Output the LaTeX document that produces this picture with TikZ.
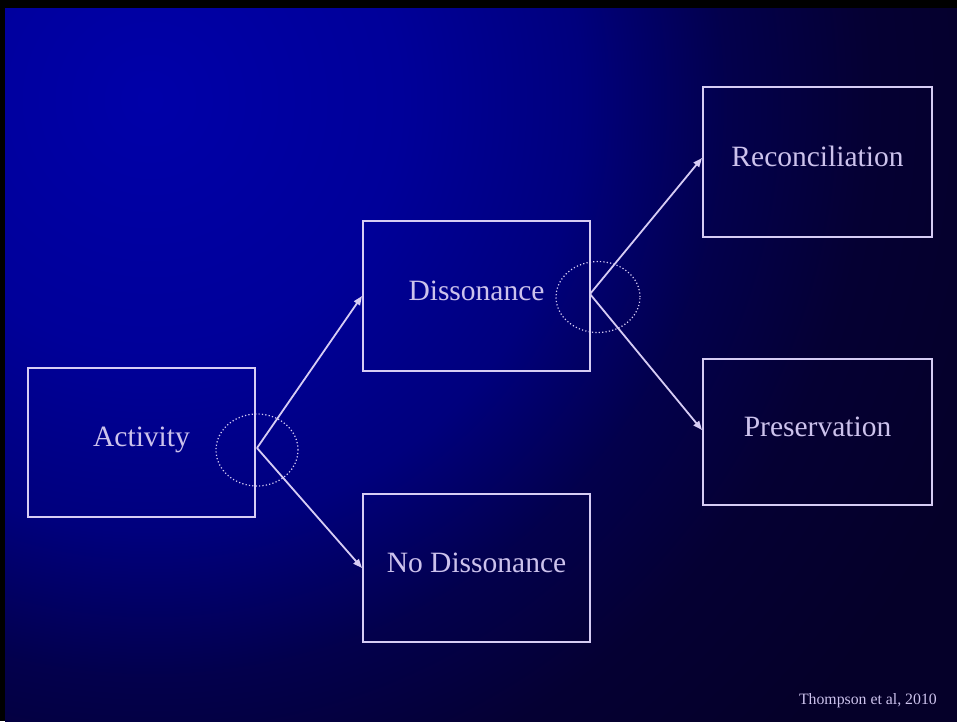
\documentclass[tikz,border=0pt]{standalone}
\usepackage{fontspec}
\setmainfont{Liberation Serif}
\usetikzlibrary{arrows.meta,shapes.geometric}

% background glow: bright blue in the upper left, fading to deep navy
% (25bp corresponds to the radius of the shaded circle)
\pgfdeclareradialshading{bgglow}{\pgfpoint{0bp}{0bp}}{%
  rgb(0bp)=(0,0,0.66);
  rgb(5.7bp)=(0,0,0.60);
  rgb(9.8bp)=(0,0,0.49);
  rgb(13.1bp)=(0.01,0,0.30);
  rgb(16.4bp)=(0.02,0,0.20);
  rgb(20.5bp)=(0.02,0,0.16);
  rgb(50bp)=(0.02,0,0.16)}

\definecolor{linecol}{RGB}{214,204,244}
\definecolor{textcol}{RGB}{204,194,236}

\tikzset{
  stagebox/.style={draw=linecol, line width=2pt, rectangle, inner sep=0pt,
    text=textcol, font=\fontsize{29.5}{34}\selectfont,
    text height=20pt, text depth=12pt},
  branch/.style={draw=linecol, line width=1.8pt,
    -{Triangle[length=9pt,width=7pt]}},
  forkring/.style={draw=linecol, ellipse, line width=1.2pt,
    dash pattern=on 1.2pt off 2.2pt, inner sep=0pt},
  credit/.style={text=textcol, font=\fontsize{15.8}{19}\selectfont, inner sep=0pt}
}

\begin{document}
\begin{tikzpicture}[x=1pt,y=-1pt]
  \useasboundingbox (0,0) rectangle (957,721);
  % dark frame and shaded slide area
  \fill[black] (0,0) rectangle (957,721);
  \begin{scope}
    \clip (5,8) rectangle (957,721);
    \shade[shading=bgglow] (150,100) circle (1100);
  \end{scope}

  % stages
  \node[stagebox, minimum width=227pt, minimum height=149pt] (act)    at (141.5,442.5) {Activity};
  \node[stagebox, minimum width=227pt, minimum height=150pt] (diss)   at (476.5,296)   {Dissonance};
  \node[stagebox, minimum width=227pt, minimum height=148pt] (nodiss) at (476.5,568)   {No Dissonance};
  \node[stagebox, minimum width=229pt, minimum height=150pt] (rec)    at (817.5,162)   {Reconciliation};
  \node[stagebox, minimum width=229pt, minimum height=146pt] (pres)   at (817.5,432)   {Preservation};

  % branching points with dotted rings
  \coordinate (forkA) at (257,448);
  \coordinate (forkB) at (590,294);
  \node[forkring, minimum width=82pt, minimum height=72pt] (ringA) at (257,450) {};
  \node[forkring, minimum width=84pt, minimum height=71pt] (ringB) at (598,297) {};

  % connectors
  \draw[branch] (forkA) -- (diss.west);
  \draw[branch] (forkA) -- (nodiss.west);
  \draw[branch] (forkB) -- ([yshift=4pt]rec.west);
  \draw[branch] (forkB) -- ([yshift=2pt]pres.west);

  % citation
  \node[credit, anchor=base east] (cite) at (937,704) {Thompson et al, 2010};
\end{tikzpicture}
\end{document}
